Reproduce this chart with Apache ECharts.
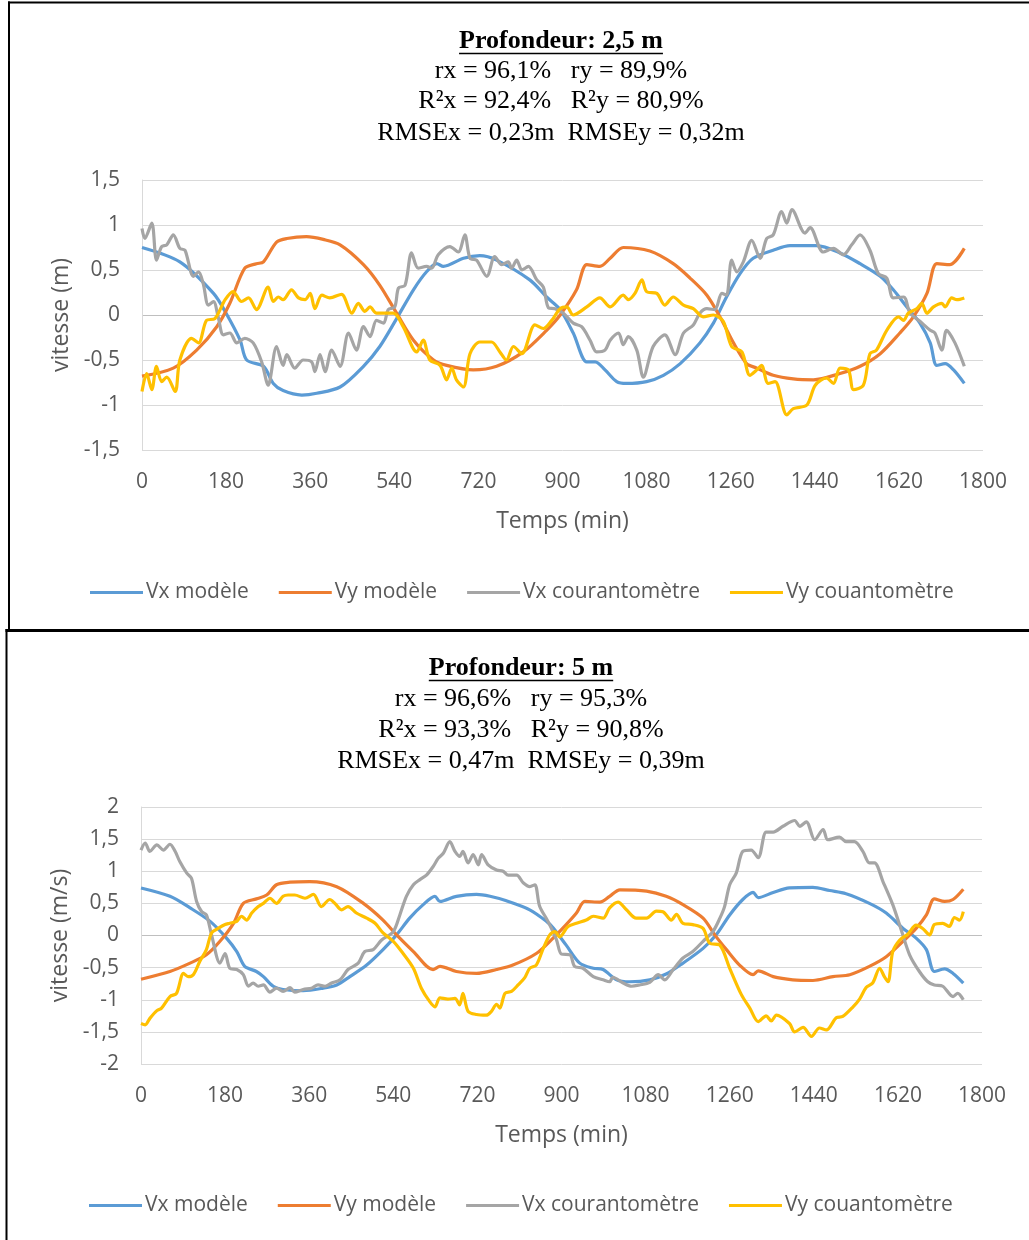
<!DOCTYPE html>
<html>
<head>
<meta charset="utf-8">
<script src="https://cdn.jsdelivr.net/npm/echarts@6/dist/echarts.min.js"></script>
<style>
html, body { margin: 0; padding: 0; background: #ffffff; }
#chart { width: 1029px; height: 1240px; }
</style>
</head>
<body>
<div id="chart"></div>
<script>
// Series names (legend order)
const seriesNames = ['Vx modèle', 'Vy modèle', 'Vx courantomètre', 'Vy couantomètre'];
const seriesColors = ['#5B9BD5', '#ED7D31', '#A5A5A5', '#FFC000'];

// Panel headings
const titles = ['Profondeur: 2,5 m', 'Profondeur: 5 m'];
const statsTop = ['rx = 96,1%   ry = 89,9%', 'R²x = 92,4%   R²y = 80,9%', 'RMSEx = 0,23m  RMSEy = 0,32m'];
const statsBottom = ['rx = 96,6%   ry = 95,3%', 'R²x = 93,3%   R²y = 90,8%', 'RMSEx = 0,47m  RMSEy = 0,39m'];
const yTitles = ['vitesse (m)', 'vitesse (m/s)'];
const xTitle = 'Temps (min)';

// Depth 2.5 m : [time (min), velocity]
const vxModele25 = [[0,0.75],[81,0.59],[153,0.24],[180,0.02],[210,-0.28],[224,-0.5],[260,-0.57],[281,-0.76],[302,-0.84],[342,-0.89],[374,-0.87],[424,-0.8],[474,-0.57],[509,-0.35],[545,-0.04],[581,0.28],[609,0.48],[631,0.57],[645,0.54],[688,0.63],[723,0.66],[759,0.61],[830,0.39],[866,0.2],[895,0.06],[923,-0.2],[952,-0.52],[970,-0.52],[991,-0.61],[1016,-0.74],[1037,-0.76],[1080,-0.74],[1116,-0.67],[1152,-0.54],[1194,-0.31],[1223,-0.09],[1251,0.2],[1280,0.46],[1308,0.63],[1351,0.72],[1387,0.77],[1444,0.77],[1494,0.69],[1537,0.57],[1580,0.43],[1608,0.28],[1637,0.09],[1665,-0.09],[1687,-0.31],[1701,-0.56],[1719,-0.54],[1737,-0.61],[1760,-0.76]];
const vyModele25 = [[0,-0.68],[67,-0.59],[117,-0.39],[160,-0.13],[188,0.13],[220,0.52],[245,0.57],[260,0.59],[288,0.81],[310,0.85],[352,0.87],[388,0.84],[424,0.78],[474,0.56],[509,0.33],[545,0.02],[581,-0.28],[624,-0.5],[652,-0.56],[709,-0.61],[759,-0.57],[816,-0.41],[866,-0.17],[895,0.0],[930,0.28],[952,0.56],[980,0.54],[1002,0.63],[1030,0.75],[1087,0.71],[1137,0.57],[1173,0.41],[1209,0.22],[1237,-0.02],[1266,-0.31],[1294,-0.54],[1316,-0.59],[1351,-0.67],[1394,-0.71],[1437,-0.72],[1494,-0.65],[1537,-0.57],[1580,-0.43],[1622,-0.2],[1651,-0.02],[1680,0.24],[1701,0.57],[1729,0.56],[1760,0.74]];
const vxCourant25 = [[0,0.96],[6,0.85],[21,1.02],[31,0.61],[42,0.76],[53,0.78],[67,0.89],[81,0.74],[92,0.72],[110,0.43],[121,0.48],[131,0.35],[142,0.11],[153,0.15],[163,-0.02],[174,-0.22],[188,-0.2],[203,-0.31],[220,-0.26],[238,-0.31],[256,-0.52],[270,-0.78],[288,-0.35],[302,-0.56],[310,-0.44],[327,-0.59],[345,-0.5],[363,-0.52],[370,-0.63],[381,-0.44],[392,-0.63],[406,-0.39],[424,-0.57],[442,-0.2],[459,-0.39],[474,-0.13],[488,-0.24],[502,-0.06],[517,-0.09],[527,0.06],[541,0.09],[549,0.3],[563,0.33],[577,0.69],[591,0.52],[609,0.54],[620,0.52],[634,0.67],[659,0.76],[677,0.7],[691,0.89],[702,0.63],[716,0.61],[738,0.43],[755,0.65],[770,0.56],[784,0.59],[791,0.52],[802,0.61],[813,0.5],[827,0.54],[845,0.39],[859,0.31],[870,0.08],[884,0.07],[902,0.02],[923,-0.09],[941,-0.13],[959,-0.28],[973,-0.41],[991,-0.39],[1002,-0.28],[1020,-0.2],[1030,-0.33],[1041,-0.24],[1059,-0.39],[1073,-0.69],[1094,-0.35],[1119,-0.22],[1141,-0.44],[1159,-0.2],[1180,-0.11],[1194,0.02],[1209,0.07],[1226,0.06],[1241,0.24],[1251,0.22],[1262,0.61],[1273,0.48],[1287,0.59],[1305,0.83],[1323,0.63],[1337,0.85],[1351,0.89],[1369,1.15],[1380,1.02],[1391,1.17],[1419,0.91],[1430,0.97],[1458,0.7],[1480,0.74],[1501,0.67],[1519,0.78],[1537,0.89],[1558,0.72],[1576,0.46],[1594,0.41],[1608,0.19],[1630,0.2],[1644,0.02],[1665,-0.07],[1687,-0.17],[1697,-0.2],[1712,-0.39],[1722,-0.17],[1740,-0.31],[1760,-0.57]];
const vyCourant25 = [[0,-0.85],[10,-0.65],[21,-0.83],[31,-0.57],[42,-0.74],[53,-0.69],[71,-0.85],[81,-0.5],[106,-0.26],[121,-0.31],[138,-0.06],[156,-0.04],[178,0.17],[195,0.26],[213,0.15],[228,0.19],[245,0.06],[270,0.31],[281,0.15],[292,0.2],[302,0.17],[320,0.28],[335,0.19],[349,0.17],[360,0.24],[370,0.07],[385,0.22],[402,0.19],[427,0.23],[449,0.02],[463,0.13],[477,0.04],[488,0.09],[502,0.02],[538,0.02],[559,-0.13],[588,-0.41],[602,-0.28],[616,-0.5],[638,-0.56],[652,-0.72],[663,-0.59],[673,-0.72],[688,-0.8],[702,-0.43],[723,-0.3],[748,-0.3],[766,-0.41],[780,-0.5],[795,-0.35],[813,-0.43],[841,-0.11],[859,-0.15],[877,-0.06],[895,0.07],[909,0.09],[923,0],[952,0.09],[980,0.19],[1002,0.09],[1030,0.22],[1041,0.17],[1055,0.24],[1070,0.39],[1080,0.26],[1102,0.24],[1119,0.11],[1137,0.2],[1159,0.11],[1180,0.07],[1201,-0.02],[1223,0],[1244,-0.07],[1262,-0.35],[1284,-0.41],[1301,-0.67],[1316,-0.61],[1326,-0.56],[1340,-0.76],[1355,-0.74],[1380,-1.11],[1394,-1.04],[1423,-1.0],[1441,-0.78],[1465,-0.7],[1480,-0.76],[1494,-0.59],[1512,-0.61],[1523,-0.83],[1544,-0.78],[1558,-0.43],[1572,-0.39],[1594,-0.17],[1619,-0.02],[1630,-0.06],[1640,0.02],[1658,0.07],[1669,0.13],[1680,0.02],[1694,0.09],[1712,0.13],[1719,0.09],[1733,0.19],[1744,0.17],[1760,0.19]];

// Depth 5 m : [time (min), velocity]
const vxModele5 = [[0,0.74],[62,0.61],[105,0.43],[148,0.22],[183,-0.04],[205,-0.25],[222,-0.48],[247,-0.56],[262,-0.64],[283,-0.79],[304,-0.84],[347,-0.86],[390,-0.82],[419,-0.77],[447,-0.64],[483,-0.46],[518,-0.22],[547,0.01],[575,0.27],[604,0.48],[629,0.61],[640,0.53],[675,0.61],[718,0.64],[747,0.61],[782,0.54],[832,0.4],[868,0.22],[882,0.12],[910,-0.15],[939,-0.43],[968,-0.51],[989,-0.53],[1018,-0.69],[1046,-0.72],[1089,-0.69],[1124,-0.6],[1160,-0.43],[1203,-0.2],[1231,0.01],[1260,0.32],[1288,0.56],[1310,0.67],[1321,0.59],[1353,0.67],[1388,0.74],[1438,0.75],[1474,0.7],[1509,0.65],[1559,0.5],[1595,0.35],[1631,0.11],[1659,-0.04],[1681,-0.22],[1698,-0.56],[1720,-0.52],[1738,-0.59],[1760,-0.74]];
const vyModele5 = [[0,-0.68],[62,-0.56],[105,-0.43],[140,-0.3],[169,-0.09],[198,0.19],[219,0.5],[247,0.57],[269,0.63],[290,0.79],[319,0.83],[361,0.84],[419,0.76],[476,0.5],[518,0.24],[547,0.01],[583,-0.25],[625,-0.53],[640,-0.48],[675,-0.56],[718,-0.59],[761,-0.53],[796,-0.46],[846,-0.28],[882,-0.04],[910,0.17],[932,0.35],[950,0.53],[982,0.52],[1003,0.61],[1025,0.71],[1082,0.69],[1124,0.61],[1160,0.48],[1203,0.27],[1228,0.01],[1253,-0.22],[1281,-0.46],[1310,-0.61],[1321,-0.55],[1353,-0.64],[1395,-0.69],[1438,-0.7],[1481,-0.64],[1517,-0.61],[1559,-0.48],[1595,-0.33],[1631,-0.09],[1659,0.11],[1681,0.32],[1698,0.57],[1720,0.53],[1738,0.56],[1760,0.72]];
const vxCourant5 = [[0,1.33],[9,1.44],[19,1.31],[34,1.41],[48,1.33],[62,1.42],[73,1.31],[83,1.15],[98,0.97],[108,0.89],[119,0.53],[130,0.37],[140,0.32],[151,0.01],[169,-0.43],[180,-0.28],[190,-0.51],[205,-0.53],[219,-0.61],[230,-0.79],[240,-0.74],[251,-0.79],[262,-0.77],[276,-0.88],[290,-0.82],[304,-0.87],[319,-0.81],[329,-0.88],[347,-0.84],[365,-0.82],[379,-0.77],[394,-0.79],[408,-0.74],[426,-0.69],[443,-0.53],[465,-0.43],[479,-0.25],[497,-0.22],[515,-0.07],[540,0.06],[554,0.32],[568,0.61],[583,0.79],[597,0.87],[611,0.94],[625,1.07],[636,1.2],[647,1.28],[661,1.46],[672,1.31],[682,1.23],[689,1.31],[700,1.13],[711,1.26],[722,1.1],[729,1.26],[743,1.1],[761,1.02],[775,1.0],[786,0.94],[804,0.94],[818,0.82],[832,0.76],[843,0.79],[853,0.46],[871,0.22],[889,-0.06],[900,-0.29],[918,-0.3],[928,-0.48],[946,-0.51],[968,-0.64],[989,-0.69],[1003,-0.72],[1010,-0.65],[1032,-0.74],[1050,-0.79],[1067,-0.77],[1089,-0.73],[1107,-0.61],[1121,-0.69],[1139,-0.53],[1160,-0.35],[1181,-0.25],[1203,-0.09],[1224,0.06],[1239,0.27],[1249,0.45],[1260,0.79],[1274,0.97],[1288,1.31],[1306,1.33],[1321,1.21],[1338,1.61],[1353,1.61],[1374,1.7],[1399,1.79],[1410,1.7],[1424,1.77],[1442,1.49],[1460,1.65],[1470,1.49],[1495,1.53],[1509,1.46],[1527,1.46],[1545,1.31],[1559,1.13],[1570,1.13],[1588,0.84],[1609,0.48],[1627,0.09],[1645,-0.3],[1666,-0.56],[1684,-0.72],[1698,-0.77],[1716,-0.79],[1738,-0.95],[1748,-0.9],[1760,-1.0]];
const vyCourant5 = [[0,-1.37],[9,-1.39],[19,-1.29],[34,-1.17],[44,-1.13],[62,-0.95],[76,-0.9],[91,-0.59],[101,-0.64],[112,-0.61],[126,-0.4],[140,-0.22],[151,0.04],[165,0.11],[180,0.17],[190,0.19],[205,0.22],[215,0.3],[226,0.24],[237,0.35],[251,0.45],[262,0.5],[276,0.58],[290,0.5],[304,0.61],[315,0.63],[329,0.63],[351,0.58],[369,0.64],[386,0.45],[404,0.56],[415,0.5],[429,0.4],[443,0.45],[461,0.35],[483,0.27],[501,0.19],[518,0.04],[540,-0.09],[561,-0.28],[583,-0.51],[600,-0.82],[618,-1.03],[629,-1.11],[640,-0.97],[657,-0.99],[672,-0.98],[682,-1.08],[689,-0.9],[700,-1.18],[718,-1.23],[739,-1.24],[750,-1.18],[761,-1.07],[768,-1.13],[779,-0.9],[793,-0.87],[807,-0.77],[821,-0.66],[832,-0.51],[846,-0.46],[861,-0.2],[875,0.01],[886,0.06],[896,-0.02],[914,0.14],[932,0.19],[953,0.24],[968,0.3],[989,0.27],[1003,0.43],[1021,0.52],[1039,0.4],[1060,0.27],[1082,0.27],[1103,0.38],[1117,0.37],[1135,0.24],[1146,0.33],[1160,0.19],[1181,0.17],[1203,0.11],[1217,-0.12],[1239,-0.15],[1260,-0.51],[1285,-0.92],[1303,-1.13],[1321,-1.34],[1338,-1.25],[1349,-1.33],[1360,-1.24],[1388,-1.37],[1399,-1.5],[1417,-1.43],[1435,-1.57],[1452,-1.44],[1467,-1.47],[1488,-1.28],[1502,-1.26],[1524,-1.11],[1538,-0.99],[1552,-0.81],[1566,-0.74],[1581,-0.51],[1591,-0.64],[1599,-0.72],[1609,-0.25],[1624,-0.07],[1641,0.02],[1659,0.16],[1673,0.11],[1688,0.01],[1698,0.17],[1716,0.19],[1730,0.14],[1741,0.28],[1752,0.24],[1760,0.37]];

const panelData = [
  [vxModele25, vyModele25, vxCourant25, vyCourant25],
  [vxModele5, vyModele5, vxCourant5, vyCourant5]
];

const SANS = '"Open Sans", sans-serif';
const SERIF = '"Liberation Serif", serif';
const GREY_TEXT = '#595959';

// Decimal comma, no thousands separator
const commaFmt = v => String(v).replace('.', ',');

// Layout of the two stacked panels
const panels = [
  { gridLeft: 142, gridTop: 180, gridHeight: 270, yMin: -1.5, yMax: 1.5, legendTop: 577, legendLeft: 85,
    titleX: 561, titleY: 41, statsY: [71, 101, 133], stats: statsTop },
  { gridLeft: 141, gridTop: 807, gridHeight: 257, yMin: -2, yMax: 2, legendTop: 1190, legendLeft: 84,
    titleX: 521, titleY: 668, statsY: [699, 730, 761], stats: statsBottom }
];

function splitColors(min, max) {
  const cols = [];
  for (let v = min; v <= max + 1e-9; v += 0.5) {
    cols.push(Math.abs(v) < 1e-9 ? '#bfbfbf' : '#d9d9d9');
  }
  return cols;
}

const grids = [], xAxes = [], yAxes = [], series = [], legends = [], graphics = [];

const measureCtx = document.createElement('canvas').getContext('2d');

panels.forEach((p, i) => {
  grids.push({ left: p.gridLeft, right: 1029 - (p.gridLeft + 841), top: p.gridTop, height: p.gridHeight });
  xAxes.push({
    type: 'value', gridIndex: i, min: 0, max: 1800, interval: 180,
    axisLine: { show: false }, axisTick: { show: false }, splitLine: { show: false },
    axisLabel: { color: GREY_TEXT, fontSize: 21, fontFamily: SANS, margin: 22, formatter: commaFmt },
    name: xTitle, nameLocation: 'middle', nameGap: 60,
    nameTextStyle: { color: GREY_TEXT, fontSize: 23, fontFamily: SANS }
  });
  yAxes.push({
    type: 'value', gridIndex: i, min: p.yMin, max: p.yMax, interval: 0.5,
    axisLine: { show: true, onZero: false, lineStyle: { color: '#d9d9d9', width: 1 } },
    axisTick: { show: false },
    splitLine: { show: true, lineStyle: { color: splitColors(p.yMin, p.yMax), width: 1 } },
    axisLabel: { color: GREY_TEXT, fontSize: 21, fontFamily: SANS, margin: 22, formatter: commaFmt },
    name: yTitles[i], nameLocation: 'middle', nameRotate: 90, nameGap: 66,
    nameTextStyle: { color: GREY_TEXT, fontSize: 23, fontFamily: SANS }
  });
  panelData[i].forEach((d, k) => {
    series.push({
      type: 'line', name: seriesNames[k], xAxisIndex: i, yAxisIndex: i,
      data: d, showSymbol: false, symbol: 'none', smooth: 0.3,
      lineStyle: { color: seriesColors[k], width: 3.2 },
      itemStyle: { color: seriesColors[k] },
      emphasis: { disabled: true }
    });
  });
  legends.push({
    data: seriesNames, left: p.legendLeft, top: p.legendTop, orient: 'horizontal',
    icon: 'rect', itemWidth: 53, itemHeight: 3, itemGap: 30,
    textStyle: { color: GREY_TEXT, fontSize: 21, fontFamily: SANS, padding: [0, 0, 0, -2] }
  });

  // Heading: bold underlined depth, then statistics lines
  const titleFont = 'bold 26px ' + SERIF;
  measureCtx.font = titleFont;
  const tw = measureCtx.measureText(titles[i]).width;
  graphics.push({
    type: 'text', x: p.titleX, y: p.titleY,
    style: { text: titles[i], font: titleFont, fill: '#000', align: 'center', verticalAlign: 'middle',
             textAlign: 'center', textVerticalAlign: 'middle' }
  });
  graphics.push({
    type: 'line', shape: { x1: p.titleX - tw / 2, y1: p.titleY + 12.5, x2: p.titleX + tw / 2, y2: p.titleY + 12.5 },
    style: { stroke: '#000', lineWidth: 1.6 }
  });
  p.stats.forEach((s, j) => {
    graphics.push({
      type: 'text', x: p.titleX, y: p.statsY[j],
      style: { text: s, font: '26px ' + SERIF, fill: '#000', align: 'center', verticalAlign: 'middle',
               textAlign: 'center', textVerticalAlign: 'middle' }
    });
  });
});

// Panel frames
const frame = (x1, y1, x2, y2, w) => ({ type: 'line', shape: { x1, y1, x2, y2 }, style: { stroke: '#000', lineWidth: w } });
graphics.push(frame(9, 1.5, 9, 630, 2));
graphics.push(frame(8, 2.5, 1029, 2.5, 2));
graphics.push(frame(5.5, 630.5, 1029, 630.5, 3));
graphics.push(frame(6.5, 629, 6.5, 1240, 2));

const chart = echarts.init(document.getElementById('chart'), null, { renderer: 'canvas' });
chart.setOption({
  animation: false,
  backgroundColor: '#ffffff',
  grid: grids,
  xAxis: xAxes,
  yAxis: yAxes,
  legend: legends,
  series: series,
  graphic: { elements: graphics }
});
</script>
</body>
</html>
